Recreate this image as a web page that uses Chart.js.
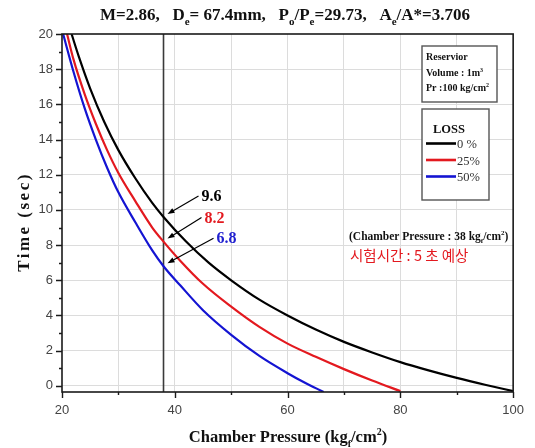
<!DOCTYPE html>
<html>
<head>
<meta charset="utf-8">
<script src="https://cdn.jsdelivr.net/npm/chart.js@4/dist/chart.umd.min.js"></script>
<style>
  html, body { margin: 0; padding: 0; background: #fff; }
  canvas { display: block; }
</style>
</head>
<body>
<canvas id="chart" width="535" height="448"></canvas>
<script>
// Run time (sec) against chamber pressure (kg/cm²) for three loss levels
const pressure0  = [21.7, 23, 25, 27.5, 30, 33, 36, 38, 42, 46, 50, 55, 60, 65, 70, 75, 80, 85, 90, 95, 100];
const time0      = [20.0, 18.7, 16.9, 15.0, 13.4, 11.8, 10.4, 9.6, 8.2, 7.0, 6.0, 4.9, 4.0, 3.2, 2.5, 1.9, 1.35, 0.88, 0.45, 0.06, -0.3];
const pressure25 = [20.9, 22, 24, 26, 28, 30, 33, 36, 38, 41, 45, 50, 55, 60, 65, 70, 75, 80];
const time25     = [20.0, 18.6, 16.6, 14.9, 13.4, 12.1, 10.5, 9.0, 8.2, 7.1, 5.8, 4.5, 3.35, 2.4, 1.65, 0.95, 0.3, -0.3];
const pressure50 = [20.2, 22, 24, 26, 28, 30, 33, 36, 38, 41, 45, 50, 55, 60, 63, 66.4];
const time50     = [20.0, 17.9, 15.8, 14.0, 12.4, 11.0, 9.3, 7.7, 6.8, 5.7, 4.3, 2.9, 1.7, 0.72, 0.19, -0.35];

const lossLabels   = ['0 %', '25%', '50%'];
const lossColors   = ['#000000', '#e3191f', '#1414d2'];
const chamberPressure = 38;              // design chamber pressure, kg/cm²
const timeAtChamber   = [9.6, 8.2, 6.8]; // run time read at the design pressure

const xLabelValues = [20, 40, 60, 80, 100];
const xTickValues  = [20, 30, 40, 50, 60, 70, 80, 90, 100];
const yLabelValues = [0, 2, 4, 6, 8, 10, 12, 14, 16, 18, 20];
const yTickValues  = [0, 1, 2, 3, 4, 5, 6, 7, 8, 9, 10, 11, 12, 13, 14, 15, 16, 17, 18, 19, 20];
const yMin = -0.35, yMax = 20, xMin = 20, xMax = 100;

const SERIF = '"Liberation Serif", "Times New Roman", serif';
const SANS  = '"Liberation Sans", Arial, sans-serif';

function toPoints(xs, ys) { return xs.map((x, i) => ({ x: x, y: ys[i] })); }

// draws a run of text pieces; mode 1 = subscript, 2 = superscript
function richText(c, parts, x, y, align, size, weight, color, family) {
  const small = Math.round(size * 0.62);
  let w = 0;
  parts.forEach(([t, m]) => {
    c.font = `${weight} ${m ? small : size}px ${family}`;
    w += c.measureText(t).width;
  });
  let cx = align === 'center' ? x - w / 2 : x;
  c.fillStyle = color;
  c.textAlign = 'left';
  c.textBaseline = 'alphabetic';
  parts.forEach(([t, m]) => {
    c.font = `${weight} ${m ? small : size}px ${family}`;
    const dy = m === 1 ? size * 0.3 : (m === 2 ? -size * 0.42 : 0);
    c.fillText(t, cx, y + dy);
    cx += c.measureText(t).width;
  });
}

function arrow(c, x1, y1, x2, y2) {
  const ang = Math.atan2(y2 - y1, x2 - x1);
  const hl = 7, hw = 2.6;
  c.strokeStyle = '#000';
  c.fillStyle = '#000';
  c.lineWidth = 1.2;
  c.beginPath();
  c.moveTo(x1, y1);
  c.lineTo(x2 - Math.cos(ang) * hl * 0.8, y2 - Math.sin(ang) * hl * 0.8);
  c.stroke();
  c.beginPath();
  c.moveTo(x2, y2);
  c.lineTo(x2 - Math.cos(ang) * hl - Math.sin(ang) * hw, y2 - Math.sin(ang) * hl + Math.cos(ang) * hw);
  c.lineTo(x2 - Math.cos(ang) * hl + Math.sin(ang) * hw, y2 - Math.sin(ang) * hl - Math.cos(ang) * hw);
  c.closePath();
  c.fill();
}

const decorations = {
  id: 'decorations',
  afterDraw(chart) {
    const c = chart.ctx;
    const a = chart.chartArea;
    const xs = chart.scales.x, ys = chart.scales.y;
    c.save();

    // frame
    c.strokeStyle = '#1a1a1a';
    c.lineWidth = 1.6;
    c.strokeRect(a.left, a.top, a.right - a.left, a.bottom - a.top);

    // tick marks: long at labelled values, short in between
    c.lineWidth = 1.4;
    c.beginPath();
    yTickValues.forEach(v => {
      const py = Math.round(ys.getPixelForValue(v)) + 0.5;
      const len = yLabelValues.includes(v) ? 6 : 3;
      c.moveTo(a.left - len, py);
      c.lineTo(a.left, py);
    });
    xTickValues.forEach(v => {
      const px = Math.round(xs.getPixelForValue(v)) + 0.5;
      const len = xLabelValues.includes(v) ? 6 : 3;
      c.moveTo(px, a.bottom);
      c.lineTo(px, a.bottom + len);
    });
    c.stroke();

    // chart title
    richText(c, [['M=2.86,   D', 0], ['e', 1], ['= 67.4mm,   P', 0], ['o', 1], ['/P', 0], ['e', 1],
                 ['=29.73,   A', 0], ['e', 1], ['/A*=3.706', 0]],
             285, 20, 'center', 17, 'bold', '#111', SERIF);

    // axis titles
    richText(c, [['Chamber Pressure (kg', 0], ['f', 1], ['/cm', 0], ['2', 2], [')', 0]],
             288, 442, 'center', 16.5, 'bold', '#111', SERIF);
    c.save();
    c.translate(23, 222);
    c.rotate(-Math.PI / 2);
    c.font = `bold 17px ${SERIF}`;
    c.letterSpacing = '2.5px';
    c.fillStyle = '#111';
    c.textAlign = 'center';
    c.textBaseline = 'alphabetic';
    c.fillText('Time (sec)', 0, 6);
    c.letterSpacing = '0px';
    c.restore();

    // value call-outs at the design chamber pressure
    const offs = [[38, -22], [41, -25], [53, -29]];
    timeAtChamber.forEach((t, i) => {
      const px = xs.getPixelForValue(chamberPressure);
      const py = ys.getPixelForValue(t);
      const tx = px + offs[i][0], ty = py + offs[i][1];
      arrow(c, tx - 3, ty + 1, px + 4, py - 3);
      c.font = `bold 16px ${SERIF}`;
      c.fillStyle = i === 0 ? '#000' : (i === 1 ? '#e3191f' : '#2020d0');
      c.textAlign = 'left';
      c.textBaseline = 'alphabetic';
      c.fillText(String(t), tx, ty + 6);
    });

    // note on the design point
    richText(c, [['(Chamber Pressure : 38 kg', 0], ['f', 1], ['/cm', 0], ['2', 2], [')', 0]],
             349, 240, 'left', 11.5, 'bold', '#111', SERIF);
    c.font = `14.5px "Noto Sans CJK KR", sans-serif`;
    c.fillStyle = '#e3191f';
    c.textAlign = 'left';
    c.textBaseline = 'alphabetic';
    c.fillText('시험시간 : 5 초 예상', 350, 261);

    // reservoir box
    c.fillStyle = '#fff';
    c.fillRect(422, 46, 75, 56);
    c.strokeStyle = '#555';
    c.lineWidth = 1.4;
    c.strokeRect(422, 46, 75, 56);
    richText(c, [['Reservior', 0]], 426, 60, 'left', 10, 'bold', '#111', SERIF);
    richText(c, [['Volume : 1m', 0], ['3', 2]], 426, 76, 'left', 10, 'bold', '#111', SERIF);
    richText(c, [['Pr :100 kg/cm', 0], ['2', 2]], 426, 91, 'left', 10, 'bold', '#111', SERIF);

    // loss legend
    c.fillStyle = '#fff';
    c.fillRect(422, 109, 67, 91);
    c.strokeStyle = '#555';
    c.strokeRect(422, 109, 67, 91);
    c.font = `bold 12.5px ${SERIF}`;
    c.fillStyle = '#111';
    c.textAlign = 'center';
    c.fillText('LOSS', 449, 133);
    const rows = [143.5, 160, 176.5];
    lossLabels.forEach((lab, i) => {
      c.strokeStyle = lossColors[i];
      c.lineWidth = 2.6;
      c.beginPath();
      c.moveTo(426, rows[i]);
      c.lineTo(456, rows[i]);
      c.stroke();
      c.font = `12.5px ${SERIF}`;
      c.fillStyle = '#333';
      c.textAlign = 'left';
      c.fillText(lab, 457, rows[i] + 4.5);
    });

    c.restore();
  }
};

const seriesStyle = (color) => ({
  borderColor: color,
  backgroundColor: color,
  borderWidth: 2.2,
  showLine: true,
  pointRadius: 0,
  cubicInterpolationMode: 'monotone',
  fill: false
});

new Chart(document.getElementById('chart').getContext('2d'), {
  type: 'scatter',
  data: {
    datasets: [
      Object.assign({ label: lossLabels[0], data: toPoints(pressure0, time0) }, seriesStyle(lossColors[0])),
      Object.assign({ label: lossLabels[1], data: toPoints(pressure25, time25) }, seriesStyle(lossColors[1])),
      Object.assign({ label: lossLabels[2], data: toPoints(pressure50, time50) }, seriesStyle(lossColors[2])),
      {
        label: 'design pressure',
        data: [{ x: chamberPressure, y: yMin }, { x: chamberPressure, y: yMax }],
        borderColor: '#3a3a3a', borderWidth: 1.6, showLine: true, pointRadius: 0
      }
    ]
  },
  options: {
    responsive: false,
    animation: false,
    devicePixelRatio: 1,
    layout: { padding: { left: 0, right: 16, top: 34, bottom: 0 } },
    plugins: { legend: { display: false }, tooltip: { enabled: false } },
    scales: {
      x: {
        type: 'linear', min: xMin, max: xMax,
        afterBuildTicks: s => { s.ticks = xTickValues.map(v => ({ value: v })); },
        afterFit: s => { s.height = 56; },
        border: { display: false },
        grid: {
          drawTicks: false,
          lineWidth: 1,
          color: ctx => (ctx.tick && ctx.tick.value > xMin && ctx.tick.value < xMax) ? '#dcdcdc' : 'rgba(0,0,0,0)'
        },
        ticks: {
          autoSkip: false, maxRotation: 0, padding: 11,
          color: '#444', font: { family: SANS, size: 13 },
          callback: v => xLabelValues.includes(v) ? String(v) : ''
        }
      },
      y: {
        type: 'linear', min: yMin, max: yMax,
        afterBuildTicks: s => { s.ticks = yTickValues.map(v => ({ value: v })); },
        afterFit: s => { s.width = 62; },
        border: { display: false },
        grid: {
          drawTicks: false,
          lineWidth: 1,
          color: ctx => (ctx.tick && ctx.tick.value % 2 === 0 && ctx.tick.value < yMax) ? '#dcdcdc' : 'rgba(0,0,0,0)'
        },
        ticks: {
          autoSkip: false, padding: 9,
          color: '#444', font: { family: SANS, size: 13 },
          callback: v => yLabelValues.includes(v) ? String(v) : ''
        }
      }
    }
  },
  plugins: [decorations]
});
</script>
</body>
</html>
